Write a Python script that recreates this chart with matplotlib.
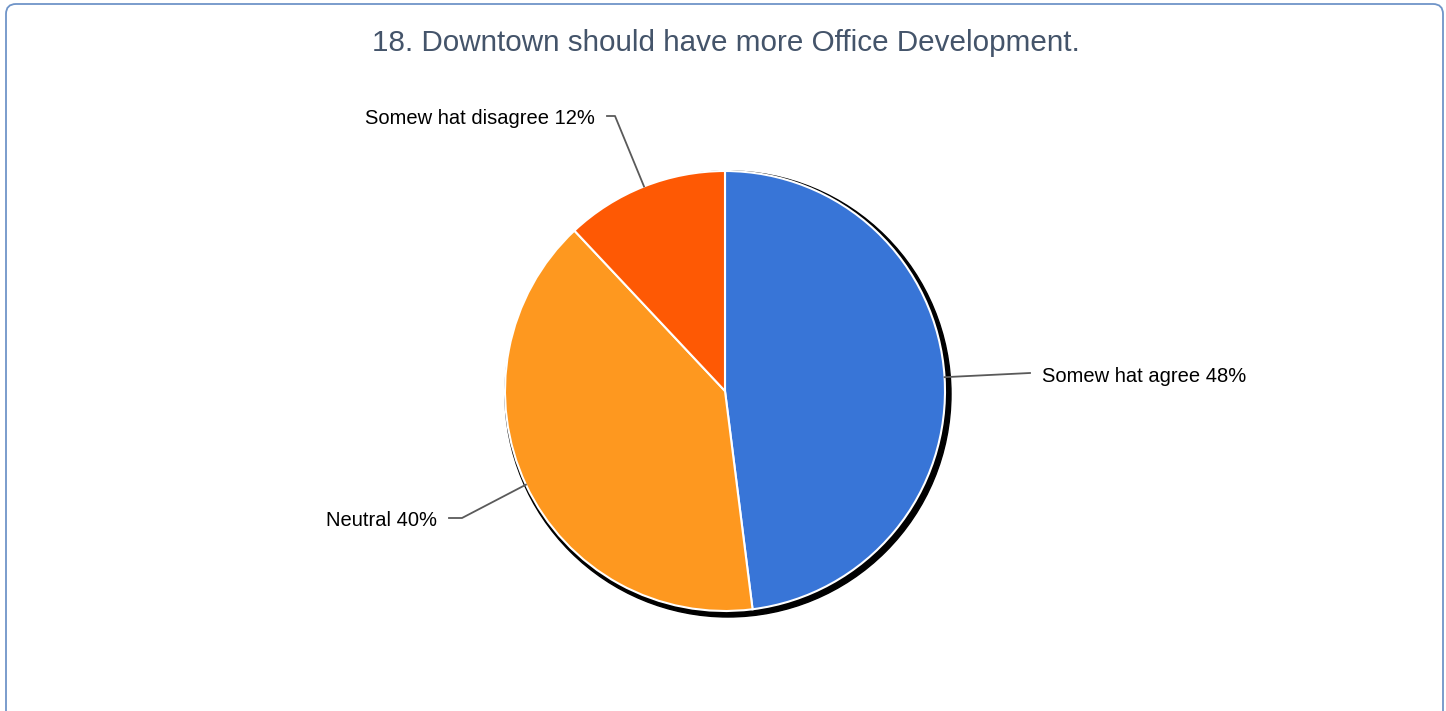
import numpy as np
import matplotlib.pyplot as plt
from matplotlib.patches import Circle, FancyBboxPatch

# Datos
categories = ['Somew hat agree', 'Neutral', 'Somew hat disagree']
values = [48, 40, 12]
colors = ['#3875D7', '#FE981F', '#FE5904']

title = '18. Downtown should have more Office Development.'

# Lienzo en pixeles
W, H = 1446, 711
plt.rcParams['font.family'] = ['Liberation Sans', 'DejaVu Sans']

fig = plt.figure(figsize=(W / 100, H / 100), dpi=100)
ax = fig.add_axes([0, 0, 1, 1])
ax.set_xlim(0, W)
ax.set_ylim(0, H)
ax.set_aspect('equal')
ax.axis('off')

# Marco redondeado
frame = FancyBboxPatch((6, -20), 1437, H - 4 + 20, boxstyle='round,pad=0,rounding_size=10',
                       facecolor='white', edgecolor='#6F94C8', linewidth=1.3, zorder=0)
ax.add_patch(frame)

cx, cy, r = 725, H - 391, 220

# Sombra del pastel
ax.add_patch(Circle((cx + 3, cy - 3), r + 3, color='black', zorder=1))

wedges, _ = ax.pie(values, colors=colors, startangle=90, counterclock=False,
                   center=(cx, cy), radius=r, frame=True,
                   wedgeprops=dict(edgecolor='white', linewidth=1.5))
for w in wedges:
    w.set_zorder(2)
ax.set_xlim(0, W)
ax.set_ylim(0, H)
ax.axis('off')

# Etiquetas con lineas guia: (codo x, codo y, fin x, lado)
leaders = [(1030, H - 373, 1030, 'left'),
           (462, H - 518, 449, 'right'),
           (615, H - 116, 607, 'right')]

for w, cat, v, (kx, ky, ex, side) in zip(wedges, categories, values, leaders):
    ang = np.deg2rad((w.theta1 + w.theta2) / 2)
    px, py = cx + r * np.cos(ang), cy + r * np.sin(ang)
    ax.plot([px, kx, ex], [py, ky, ky], color='#5A5A5A', lw=1.3, zorder=3)
    tx = ex + 12 if side == 'left' else ex - 12
    ax.text(tx, ky - 3, f'{cat} {v}%', ha=side, va='center', fontsize=14.5, color='black')

ax.text(W / 2 + 3, H - 43, title, ha='center', va='center', fontsize=21.3, color='#44546A')

fig.savefig('out.png', dpi=100)
